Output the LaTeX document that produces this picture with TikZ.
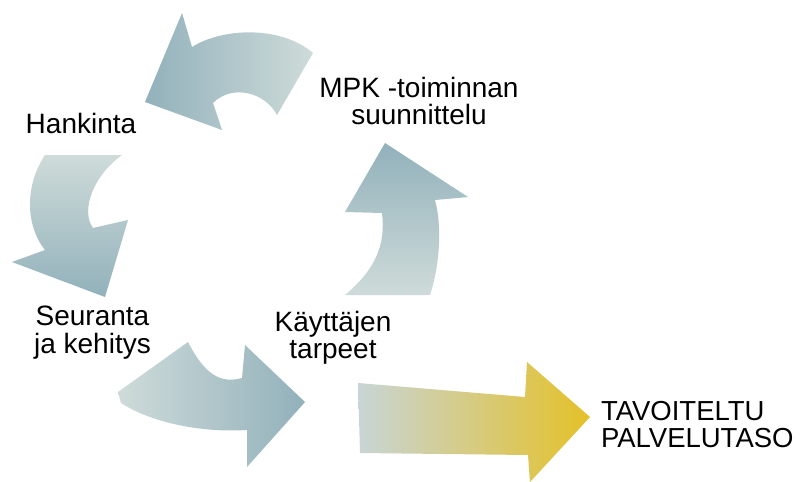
\documentclass[tikz,border=0pt]{standalone}
\usepackage{fontspec}
\setmainfont{Liberation Sans}
\definecolor{arrdark}{RGB}{146,177,187}
\definecolor{arrlight}{RGB}{206,219,217}
\definecolor{goalyellow}{RGB}{228,193,40}
\definecolor{goalstart}{RGB}{200,213,214}
\begin{document}
\begin{tikzpicture}[x=1pt,y=-1pt,
  lbl/.style={inner sep=0pt, outer sep=0pt, font=\fontsize{28}{27.5}\selectfont, text=black},
  cyc/.style={draw=none}]
\useasboundingbox (0,0) rectangle (809,482);
\fill[white] (0,0) rectangle (809,482);

% top arrow (towards Hankinta)
\path[cyc, left color=arrdark, right color=arrlight]
  (182,13) -- (192,47) .. controls (222,28) and (280,25) .. (313,53)
  -- (277,115) .. controls (265,92) and (232,84) .. (213,103)
  -- (222,130) -- (145,102) -- cycle;

% left arrow (towards Seuranta)
\path[cyc, top color=arrlight, bottom color=arrdark]
  (45,155) -- (122,155) .. controls (94,175) and (80,210) .. (93,228)
  -- (128,220) -- (105,297) -- (12,262) -- (45,250)
  .. controls (25,225) and (25,185) .. (45,155) -- cycle;

% bottom arrow (towards Kayttajen tarpeet)
\path[cyc, left color=arrlight, right color=arrdark]
  (118,392) -- (188,342) .. controls (200,365) and (215,386) .. (242,378)
  -- (245,345) -- (305,402) -- (247,467) -- (247,430)
  .. controls (200,433) and (150,422) .. (121,403) -- cycle;

% right arrow (towards MPK)
\path[cyc, top color=arrdark, bottom color=arrlight]
  (385,143) -- (468,197) -- (435,200)
  .. controls (442,225) and (440,265) .. (430,295)
  -- (345,295) .. controls (375,270) and (386,245) .. (382,213)
  -- (345,212) -- cycle;

% goal arrow
\path[cyc, left color=goalstart, right color=goalyellow]
  (358,383) -- (525,397) -- (527,362) -- (590,417) -- (530,482)
  -- (528,455) -- (360,453) -- cycle;

\node[lbl, anchor=north] (hank) at (81,113) {Hankinta};
\node[lbl, anchor=north, align=center] (mpk) at (419,77) {MPK -toiminnan\\suunnittelu};
\node[lbl, anchor=north, align=center] (seur) at (92.5,306) {Seuranta\\ja kehitys};
\node[lbl, anchor=north, align=center] (kayt) at (333,311) {Käyttäjen\\tarpeet};
\node[lbl, anchor=north west, align=left, font=\fontsize{27.5}{27}\selectfont] (goal) at (601,401.5) {TAVOITELTU\\PALVELUTASO};
\end{tikzpicture}
\end{document}
